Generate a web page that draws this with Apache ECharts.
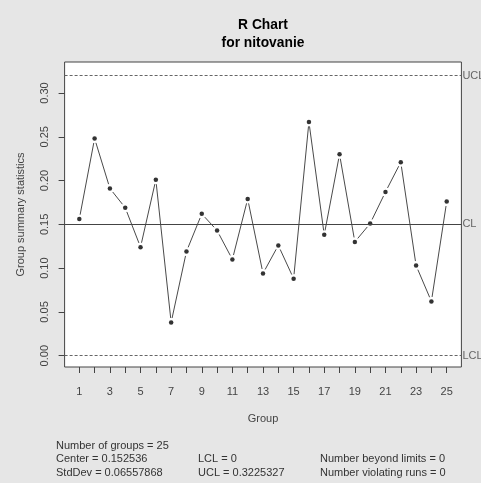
<!DOCTYPE html>
<html>
<head>
<meta charset="utf-8">
<script src="https://cdn.jsdelivr.net/npm/echarts@6/dist/echarts.min.js"></script>
<style>
  html, body { margin: 0; padding: 0; background: #e6e6e6; }
  #chart { width: 481px; height: 483px; }
</style>
</head>
<body>
<div id="chart"></div>
<script>
// Sample ranges of the riveting process, one per group
const groups = [1, 2, 3, 4, 5, 6, 7, 8, 9, 10, 11, 12, 13, 14, 15, 16, 17, 18, 19, 20, 21, 22, 23, 24, 25];
const ranges = [0.156, 0.248, 0.191, 0.169, 0.124, 0.201, 0.038, 0.119, 0.162, 0.143, 0.110, 0.179, 0.094,
                0.126, 0.088, 0.267, 0.138, 0.230, 0.130, 0.151, 0.187, 0.221, 0.103, 0.062, 0.176];

// Control limits and summary statistics
const center = 0.152536;
const stdDev = 0.06557868;
const lcl = 0;
const ucl = 0.3225327;
const beyondLimits = 0;
const violatingRuns = 0;

// Axis ticks and labels
const yTicks = [0, 0.05, 0.10, 0.15, 0.20, 0.25, 0.30];
const xTicks = groups;
const xLabels = [1, 3, 5, 7, 9, 11, 13, 15, 17, 19, 21, 23, 25];

const FONT = '"Liberation Sans", Arial, sans-serif';

// Axis limits padded by 4% on each side
const yPad = (ucl - lcl) * 0.04;
const xPad = (groups[groups.length - 1] - groups[0]) * 0.04;

const points = groups.map((g, i) => [g, ranges[i]]);
const segments = [];
for (let i = 0; i < groups.length - 1; i++) {
  segments.push([groups[i], ranges[i], groups[i + 1], ranges[i + 1]]);
}

const chart = echarts.init(document.getElementById('chart'), null, { renderer: 'canvas' });

const rowY = [447, 460.7, 474.3];
const stat = (x, y, text) => ({
  type: 'text', left: x, top: y - 7,
  style: { text: text, fill: '#333', font: '11px ' + FONT }
});

chart.setOption({
  animation: false,
  backgroundColor: '#e6e6e6',
  textStyle: { fontFamily: FONT },
  title: {
    text: 'R Chart\nfor nitovanie',
    left: 263,
    top: 16,
    textAlign: 'center',
    padding: 0,
    textStyle: { fontSize: 13.8, fontWeight: 'bold', color: '#000', lineHeight: 18, fontFamily: FONT }
  },
  grid: {
    left: 64.6, right: 19.6, top: 62, bottom: 116,
    show: true, backgroundColor: '#ffffff', borderColor: '#444', borderWidth: 1
  },
  xAxis: {
    type: 'value',
    position: 'bottom',
    min: groups[0] - xPad,
    max: groups[groups.length - 1] + xPad,
    name: 'Group',
    nameLocation: 'middle',
    nameGap: 46,
    nameTextStyle: { color: '#444', fontSize: 11, fontFamily: FONT },
    axisLine: { show: false, onZero: false },
    splitLine: { show: false },
    axisTick: { show: true, inside: false, length: 6, lineStyle: { color: '#444' }, customValues: xTicks },
    axisLabel: { color: '#444', fontSize: 11, margin: 19, customValues: xLabels, fontFamily: FONT }
  },
  yAxis: {
    type: 'value',
    position: 'left',
    min: lcl - yPad,
    max: ucl + yPad,
    name: 'Group summary statistics',
    nameLocation: 'middle',
    nameRotate: 90,
    nameGap: 38,
    nameTextStyle: { color: '#444', fontSize: 11, fontFamily: FONT },
    axisLine: { show: false, onZero: false },
    splitLine: { show: false },
    axisTick: { show: true, inside: false, length: 6, lineStyle: { color: '#444' }, customValues: yTicks },
    axisLabel: {
      color: '#444', fontSize: 11, margin: 14, rotate: 90, customValues: yTicks, fontFamily: FONT,
      formatter: v => v.toFixed(2)
    }
  },
  series: [
    {
      // connecting segments, trimmed short of each point
      type: 'custom',
      data: segments,
      silent: true,
      z: 2,
      renderItem: function (params, api) {
        const p1 = api.coord([api.value(0), api.value(1)]);
        const p2 = api.coord([api.value(2), api.value(3)]);
        const dx = p2[0] - p1[0], dy = p2[1] - p1[1];
        const len = Math.sqrt(dx * dx + dy * dy);
        const gap = 4.5;
        if (len <= 2 * gap) return null;
        const ux = dx / len, uy = dy / len;
        return {
          type: 'line',
          shape: { x1: p1[0] + ux * gap, y1: p1[1] + uy * gap, x2: p2[0] - ux * gap, y2: p2[1] - uy * gap },
          style: { stroke: '#4a4a4a', lineWidth: 1 }
        };
      }
    },
    {
      type: 'scatter',
      data: points,
      symbol: 'circle',
      symbolSize: 4.5,
      itemStyle: { color: '#000' },
      silent: true,
      z: 3,
      markLine: {
        silent: true,
        symbol: 'none',
        animation: false,
        data: [
          { yAxis: ucl, lineStyle: { type: [3, 2], color: '#666', width: 1 }, label: { formatter: 'UCL' } },
          { yAxis: center, lineStyle: { type: 'solid', color: '#444', width: 1 }, label: { formatter: 'CL' } },
          { yAxis: lcl, lineStyle: { type: [3, 2], color: '#666', width: 1 }, label: { formatter: 'LCL' } }
        ],
        label: { show: true, position: 'end', distance: 1, color: '#666', fontSize: 11, fontFamily: FONT }
      }
    }
  ],
  graphic: [
    stat(56, rowY[0], 'Number of groups = ' + groups.length),
    stat(56, rowY[1], 'Center = ' + center),
    stat(56, rowY[2], 'StdDev = ' + stdDev),
    stat(198, rowY[1], 'LCL = ' + lcl),
    stat(198, rowY[2], 'UCL = ' + ucl),
    stat(320, rowY[1], 'Number beyond limits = ' + beyondLimits),
    stat(320, rowY[2], 'Number violating runs = ' + violatingRuns)
  ]
});
</script>
</body>
</html>
